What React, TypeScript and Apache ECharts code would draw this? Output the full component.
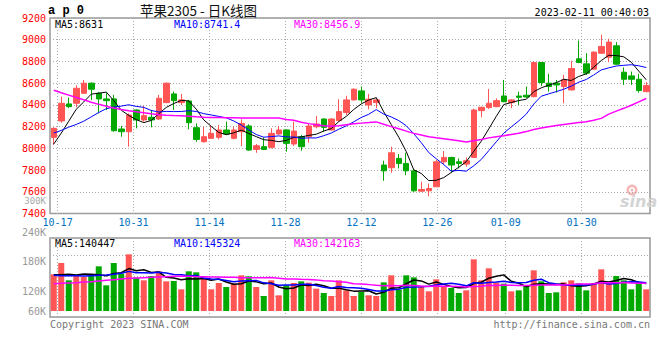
import React, { useEffect, useRef } from 'react';
import * as echarts from 'echarts';

const dates = ['10-14','10-17','10-18','10-19','10-20','10-21','10-24','10-25','10-26','10-27','10-28','10-31','11-01','11-02','11-03','11-04','11-07','11-08','11-09','11-10','11-11','11-14','11-15','11-16','11-17','11-18','11-21','11-22','11-23','11-24','11-25','11-28','11-29','11-30','12-01','12-02','12-05','12-06','12-07','12-08','12-09','12-12','12-13','12-14','12-15','12-16','12-19','12-20','12-21','12-22','12-23','12-26','12-27','12-28','12-29','12-30','01-03','01-04','01-05','01-06','01-09','01-10','01-11','01-12','01-13','01-16','01-17','01-18','01-19','01-20','01-30','01-31','02-01','02-02','02-03','02-06','02-07','02-08','02-09','02-10'];

const labelDates = ['10-17','10-31','11-14','11-28','12-12','12-26','01-09','01-30'];

const opens = [8101,8252,8409,8415,8507,8600,8507,8455,8455,8178,8153,8353,8261,8286,8270,8421,8501,8421,8436,8190,8061,8092,8101,8169,8092,8153,8206,7990,8015,8009,8132,8169,8040,8107,8107,8199,8270,8169,8255,8329,8446,8529,8399,8421,7846,7821,7907,7861,7793,7606,7609,7646,7876,7916,7876,7855,7916,8347,8375,8384,8482,8421,8482,8489,8476,8790,8600,8600,8569,8538,8824,8778,8729,8876,8839,8944,8701,8667,8636,8522];
const closes = [8184,8415,8384,8553,8600,8544,8455,8439,8162,8153,8307,8261,8301,8261,8461,8600,8439,8446,8236,8082,8107,8138,8169,8132,8169,8230,7984,8024,7990,8138,8169,8046,8159,8015,8206,8224,8193,8270,8338,8446,8544,8446,8452,8446,7793,7959,7861,7793,7609,7621,7630,7876,7916,7846,7861,7886,8353,8378,8415,8439,8430,8446,8470,8473,8790,8606,8569,8584,8630,8735,8790,8692,8886,8938,8978,8775,8636,8636,8532,8578];
const lows = [8030,8236,8369,8378,8501,8446,8322,8353,8153,8107,8015,8184,8245,8193,8261,8415,8353,8399,8175,8061,8052,8086,8082,8123,8082,8021,7978,7959,7984,7999,8123,7969,8021,7978,8052,8184,8153,8163,8246,8307,8439,8421,8359,8369,7701,7775,7815,7753,7599,7599,7559,7646,7855,7775,7815,7830,7916,8286,8362,8378,8424,8369,8399,8461,8470,8575,8522,8513,8415,8532,8784,8676,8722,8870,8793,8769,8584,8584,8513,8516];
const highs = [8193,8476,8467,8581,8630,8606,8519,8507,8492,8206,8322,8359,8390,8353,8492,8606,8522,8501,8446,8230,8199,8206,8215,8246,8199,8267,8221,8040,8101,8184,8206,8175,8246,8123,8224,8298,8276,8276,8452,8483,8553,8569,8501,8461,7886,8015,7947,7959,7806,7692,7676,7892,7975,7922,7907,7916,8365,8384,8547,8461,8630,8452,8522,8569,8799,8790,8686,8630,8676,8806,8993,8876,8892,9046,9009,8978,8744,8707,8686,8609];

const volumes = [170000,204000,152000,167000,162000,167000,194000,137000,204000,172000,230000,160000,152000,165000,179000,149000,150000,125000,179000,176000,157000,125000,144000,132000,142000,167000,164000,132000,105000,152000,107000,137000,144000,149000,145000,127000,114000,105000,152000,122000,105000,117000,107000,105000,146000,167000,124000,167000,161000,132000,119000,155000,132000,129000,114000,122000,215000,152000,188000,145000,142000,119000,122000,137000,182000,149000,114000,116000,146000,152000,143000,122000,143000,185000,142000,165000,152000,125000,144000,125000];

// moving-average values visible at the left edge (earlier data not on the chart)
const ma5Head = [8040, 8140, 8250, 8360];
const ma10Head = [8140, 8165, 8195, 8220, 8250, 8290, 8330, 8365, 8380];
const ma30Head = [8535,8512,8490,8468,8448,8425,8405,8388,8372,8358,8347,8337,8328,8318,8310,8305,8302,8300,8296,8290,8286,8284,8283,8282,8281,8280,8280,8279,8279];
const vma5Head = [169000, 169000, 170000, 168000];
const vma10Head = [167000, 166000, 166000, 166000, 165000, 166000, 167000, 168000, 170000];
const vma30Head = [142000,143000,144000,145000,147000,148000,150000,152000,154000,156000,158000,159000,160000,161000,162000,163000,164000,164000,164000,163000,163000,162000,162000,161000,161000,160000,160000,160000,160000];

const volLabels = ['240K', '180K', '120K', '60K'];
const volLabelY = [232, 261, 291, 311];

const RED = '#ff5555';
const GREEN = '#00a800';
const MONO = '"DejaVu Sans Mono", "Liberation Mono", monospace';

function movingAvg(values: number[], n: number, head: number[]) {
  return values.map((_, i) => {
    if (i < n - 1) return head[i];
    let s = 0;
    for (let k = i - n + 1; k <= i; k++) s += values[k];
    return +(s / n).toFixed(2);
  });
}

function txt(text: string, x: number, y: number, fill: string, align = 'left', font = `10px ${MONO}`) {
  return {
    type: 'text',
    x,
    y,
    silent: true,
    style: { text, fill, font, textAlign: align, align, textVerticalAlign: 'middle', verticalAlign: 'middle' },
  };
}

export default function App() {
  const ref = useRef<HTMLDivElement>(null);
  useEffect(() => {
    document.body.style.margin = '0';
    const chart = echarts.init(ref.current!, null, { renderer: 'svg' });

    const gridDates = dates.slice(0, dates.length - 1);
    const labelIdx = labelDates.map((d) => dates.indexOf(d));
    const showAt = (i: number) => labelIdx.indexOf(i) >= 0;

    const candle = dates.map((_, i) => [opens[i], closes[i], lows[i], highs[i]]);
    const volData = volumes.map((v, i) => ({
      value: v,
      itemStyle: { color: closes[i] >= opens[i] ? RED : GREEN },
    }));

    const dotted = { color: '#aaa', type: [1, 2] as any, width: 1 };

    const option: any = {
      animation: false,
      backgroundColor: '#fff',
      grid: [
        { left: 50, top: 18, width: 600, height: 195.5, show: true, borderColor: '#999', borderWidth: 1.5, backgroundColor: 'transparent' },
        { left: 50, top: 238, width: 600, height: 73, show: false },
        { left: 50, top: 238, width: 600, height: 79, show: true, borderColor: '#999', borderWidth: 1.5, backgroundColor: 'transparent' },
      ],
      xAxis: [
        { type: 'category', gridIndex: 0, data: dates, boundaryGap: true, show: false, position: 'bottom' },
        {
          type: 'category', gridIndex: 0, data: gridDates, boundaryGap: true, position: 'bottom',
          axisLine: { show: false }, axisTick: { show: false },
          axisLabel: {
            interval: (i: number) => showAt(i), color: '#0070c0', fontFamily: MONO, fontSize: 10, margin: 4,
            padding: [0, 7.6, 0, 0],
          },
          splitLine: { show: true, interval: (i: number) => showAt(i), lineStyle: dotted },
        },
        { type: 'category', gridIndex: 1, data: dates, boundaryGap: true, show: false, position: 'bottom' },
        {
          type: 'category', gridIndex: 2, data: gridDates, boundaryGap: true, position: 'bottom',
          axisLine: { show: false }, axisTick: { show: false }, axisLabel: { show: false },
          splitLine: { show: true, interval: (i: number) => showAt(i), lineStyle: dotted },
        },
      ],
      yAxis: [
        {
          type: 'value', gridIndex: 0, min: 7400, max: 9200, interval: 200,
          axisLine: { show: false }, axisTick: { show: false },
          axisLabel: { color: '#ff0000', fontFamily: MONO, fontSize: 10, margin: 4, formatter: (v: number) => String(v) },
          splitLine: { show: true, lineStyle: dotted },
        },
        { type: 'value', gridIndex: 1, min: 60000, max: 279000, show: false, splitLine: { show: false } },
        {
          type: 'value', gridIndex: 2, min: 0, max: 3.85, interval: 1,
          axisLine: { show: false }, axisTick: { show: false }, axisLabel: { show: false },
          splitLine: { show: true, lineStyle: dotted },
        },
      ],
      series: [
        {
          type: 'candlestick', xAxisIndex: 0, yAxisIndex: 0, data: candle, barWidth: 6,
          itemStyle: { color: RED, color0: GREEN, borderColor: RED, borderColor0: GREEN, borderWidth: 1 },
        },
        { type: 'line', xAxisIndex: 0, yAxisIndex: 0, data: movingAvg(closes, 5, ma5Head), symbol: 'none', lineStyle: { color: '#000', width: 1 }, z: 5 },
        { type: 'line', xAxisIndex: 0, yAxisIndex: 0, data: movingAvg(closes, 10, ma10Head), symbol: 'none', lineStyle: { color: '#0000ff', width: 1 }, z: 5 },
        { type: 'line', xAxisIndex: 0, yAxisIndex: 0, data: movingAvg(closes, 30, ma30Head), symbol: 'none', lineStyle: { color: '#ff00ff', width: 1.5 }, z: 5 },
        { type: 'bar', xAxisIndex: 2, yAxisIndex: 1, data: volData, barWidth: 6 },
        { type: 'line', xAxisIndex: 2, yAxisIndex: 1, data: movingAvg(volumes, 5, vma5Head), symbol: 'none', lineStyle: { color: '#000', width: 1.5 }, z: 5 },
        { type: 'line', xAxisIndex: 2, yAxisIndex: 1, data: movingAvg(volumes, 10, vma10Head), symbol: 'none', lineStyle: { color: '#0000ff', width: 1.5 }, z: 5 },
        { type: 'line', xAxisIndex: 2, yAxisIndex: 1, data: movingAvg(volumes, 30, vma30Head), symbol: 'none', lineStyle: { color: '#ff00ff', width: 1.5 }, z: 5 },
      ],
      graphic: [
        txt('a p 0', 48, 10.5, '#000', 'left', `bold 12px "Liberation Mono", monospace`),
        txt('苹果2305 - 日K线图', 140, 10, '#111', 'left', '13.5px "Noto Sans CJK SC", sans-serif'),
        txt('2023-02-11 00:40:03', 649, 12, '#000', 'right'),
        txt('MA5:8631', 55, 24.5, '#000'),
        txt('MA10:8741.4', 174, 24.5, '#0000ff'),
        txt('MA30:8456.9', 294, 24.5, '#ff00ff'),
        txt('300K', 46, 201, '#aaa', 'right', `9px ${MONO}`),
        ...volLabels.map((l, i) => txt(l, 46, volLabelY[i], '#999', 'right')),
        txt('MA5:140447', 55, 243.5, '#000'),
        txt('MA10:145324', 174, 243.5, '#0000ff'),
        txt('MA30:142163', 294, 243.5, '#ff00ff'),
        txt('Copyright 2023 SINA.COM', 50, 324, '#777'),
        txt('http://finance.sina.com.cn', 650, 324, '#777', 'right'),
        { type: 'ring', x: 632, y: 190, silent: true, shape: { r: 5.5, r0: 3 }, style: { fill: '#f4b8b8' } },
        { type: 'circle', x: 632, y: 190, silent: true, shape: { r: 1.5 }, style: { fill: '#f4b8b8' } },
        txt('sina', 620, 201, '#d4d4d4', 'left', 'italic bold 16px "DejaVu Sans", sans-serif'),
      ],
    };

    chart.setOption(option);
    return () => chart.dispose();
  }, []);
  return <div ref={ref} style={{ width: 660, height: 360 }} />;
}
